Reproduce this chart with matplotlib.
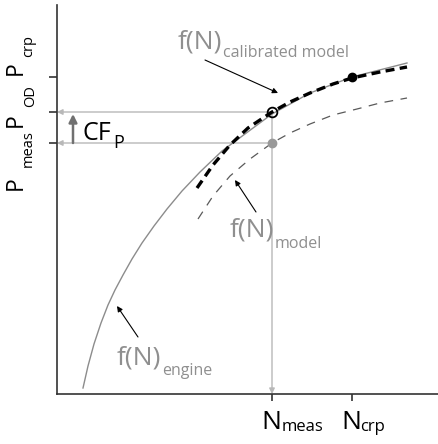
"""Schematic of engine vs. model curves with a calibration factor CF_P."""

import matplotlib
matplotlib.use("Agg")
import matplotlib.pyplot as plt

plt.rcParams["font.family"] = "Open Sans"

# engine characteristic f(N)_engine
n_engine = [26, 31, 37, 44, 51, 58, 66, 75, 85, 97, 110, 125, 143, 165, 192,
            215, 253, 295, 350]
p_engine = [6, 28, 50, 71, 89, 104, 119, 135, 151, 168, 185, 203, 222, 243, 263,
            280, 301, 317, 331]

# uncalibrated model f(N)_model
n_model = [141, 156, 173, 193, 215, 233, 253, 276, 300, 323, 350]
p_model = [175, 198, 218, 235, 251, 261, 270, 279, 285, 291, 296]

# calibrated model f(N)_calibrated model
n_calib = [140, 156, 173, 191, 215, 233, 253, 276, 295, 323, 350]
p_calib = [206, 229, 249, 266, 282, 292, 301, 310, 316, 322, 327]

# operating points
n_meas, n_crp = 215, 295
p_meas, p_od, p_crp = 251, 282, 317

GREY_TXT = "#8f8f8f"
GREY_REF = "#b8b8b8"

fig = plt.figure(figsize=(4.38, 4.44), dpi=100)
ax = fig.add_axes([57 / 438, 50 / 444, 381 / 438, 389 / 444])
ax.set_xlim(0, 381)
ax.set_ylim(0, 389)

for s in ("top", "right"):
    ax.spines[s].set_visible(False)
for s in ("left", "bottom"):
    ax.spines[s].set_color("#333333")
    ax.spines[s].set_linewidth(1.2)

ax.set_xticks([n_meas, n_crp])
ax.set_yticks([p_meas, p_od, p_crp])
ax.set_xticklabels([])
ax.set_yticklabels([])
ax.tick_params(axis="y", direction="out", length=6, width=1.2, color="#333333")
ax.tick_params(axis="x", direction="out", length=5, width=1.2, color="#333333")

# curves
ax.plot(n_engine, p_engine, color="#8c8c8c", lw=1.0, zorder=2)
ax.plot(n_model, p_model, color="#5a5a5a", lw=0.9, linestyle=(0, (7, 6)), zorder=2)
ax.plot(n_calib, p_calib, color="black", lw=2.4, linestyle=(0, (2.7, 1.6)), zorder=3)

# reference lines with arrows to the axes
ref = dict(arrowstyle="-|>", color=GREY_REF, lw=1.0, mutation_scale=8,
           shrinkA=0, shrinkB=0)
ax.annotate("", xy=(0, p_od), xytext=(n_meas, p_od), arrowprops=ref, zorder=1)
ax.annotate("", xy=(0, p_meas), xytext=(n_meas, p_meas), arrowprops=ref, zorder=1)
ax.annotate("", xy=(n_meas, 0), xytext=(n_meas, p_od), arrowprops=ref, zorder=1)

# points
ax.plot(n_meas, p_meas, "o", color="#999999", ms=6, zorder=4)
ax.plot(n_meas, p_od, "o", mfc="none", mec="black", mew=1.3, ms=7, zorder=4)
ax.plot(n_crp, p_crp, "o", color="black", ms=6, zorder=4)

# calibration factor arrow
ax.annotate("", xy=(16, p_od - 2), xytext=(16, p_meas),
            arrowprops=dict(arrowstyle="-|>", color="#707070", lw=1.8,
                            mutation_scale=12, shrinkA=0, shrinkB=0))
ax.text(26, 254, "CF", fontsize=18, color="black", ha="left", va="baseline")
ax.text(56, 246, "P", fontsize=13, color="black", ha="left", va="baseline")

# curve labels
lab = dict(color=GREY_TXT, ha="left", va="baseline")
ax.text(121, 346, "f(N)", fontsize=19, **lab)
ax.text(166, 337, "calibrated model", fontsize=11.5, **lab)
ax.text(173, 158, "f(N)", fontsize=19, **lab)
ax.text(218, 146, "model", fontsize=11.5, **lab)
ax.text(60, 30, "f(N)", fontsize=19, **lab)
ax.text(105, 19, "engine", fontsize=11.5, **lab)

ptr = dict(arrowstyle="-|>", color="black", lw=0.8, mutation_scale=8,
           shrinkA=0, shrinkB=0)
ax.annotate("", xy=(221, 301), xytext=(148, 334), arrowprops=ptr)
ax.annotate("", xy=(178, 214), xytext=(199, 182), arrowprops=ptr)
ax.annotate("", xy=(60, 88), xytext=(81, 57), arrowprops=ptr)

# axis symbols
ax.text(204, -35, "N", fontsize=19, ha="left", va="baseline", clip_on=False)
ax.text(225, -37, "meas", fontsize=12, ha="left", va="baseline", clip_on=False)
ax.text(284, -35, "N", fontsize=19, ha="left", va="baseline", clip_on=False)
ax.text(303, -37, "crp", fontsize=12, ha="left", va="baseline", clip_on=False)

rot = dict(rotation=90, rotation_mode="anchor", ha="left", va="baseline",
           clip_on=False)
ax.text(-35, 204, "P", fontsize=16.5, **rot)
ax.text(-25, 227, "meas", fontsize=10.5, **rot)
ax.text(-35, 267, "P", fontsize=16.5, **rot)
ax.text(-23, 287, "OD", fontsize=10.5, **rot)
ax.text(-35, 319, "P", fontsize=16.5, **rot)
ax.text(-25, 337, "crp", fontsize=10.5, **rot)

fig.savefig("out.png", dpi=100)
